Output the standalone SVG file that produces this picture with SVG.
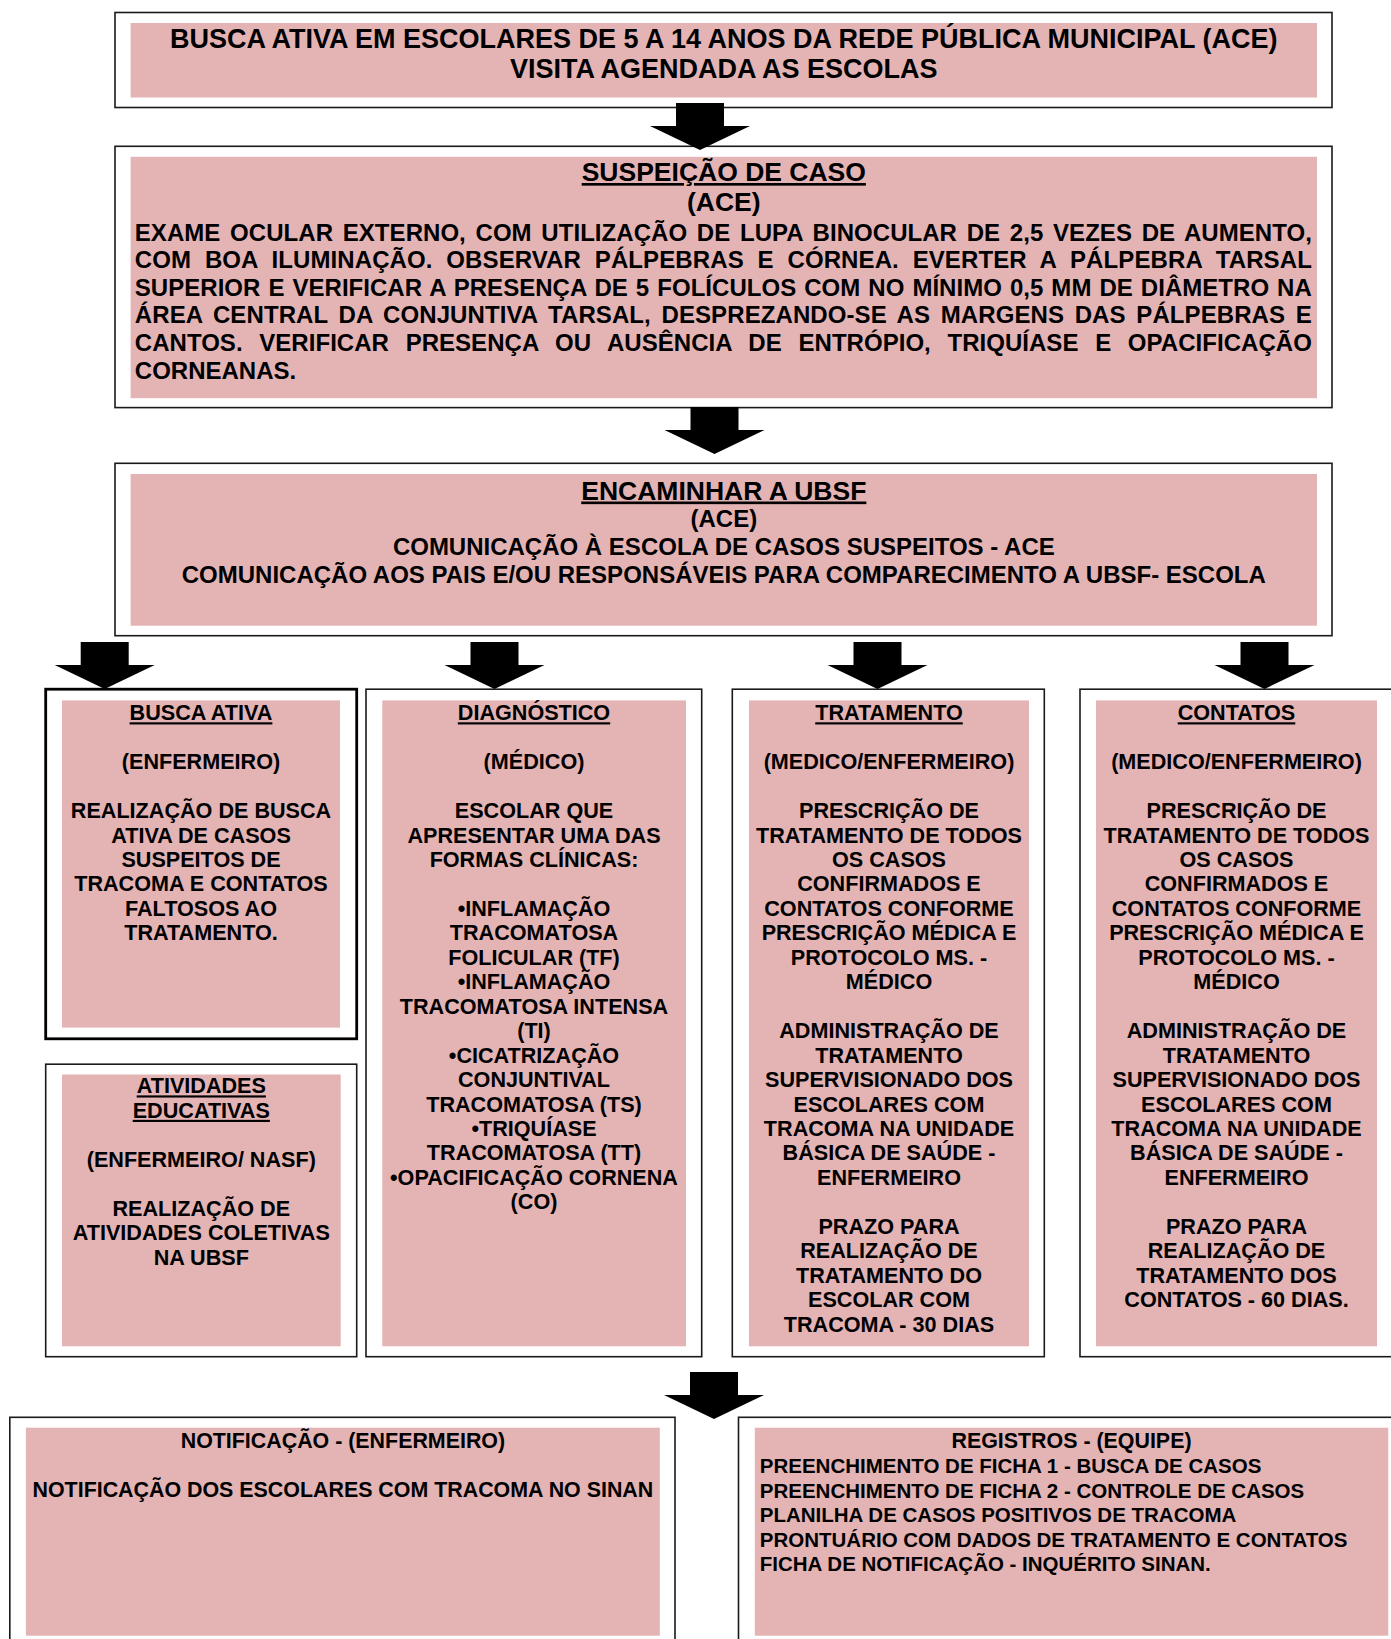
<svg xmlns="http://www.w3.org/2000/svg" xmlns:xlink="http://www.w3.org/1999/xlink" width="1391" height="1639" viewBox="0 0 1391 1639">
<style>
.frame{fill:#fff;stroke:#1a1a1a;stroke-width:1.6}
.frameb{fill:#fff;stroke:#000;stroke-width:2.8}
.pink{fill:#E4B4B5;stroke:none}
text{font-family:"Liberation Sans",Arial,sans-serif;font-weight:bold;fill:#000}
.t27{font-size:27px}
.t26{font-size:26.5px}
.t24{font-size:24px}
.t21{font-size:21.6px}
.tb{font-size:21.4px}
.tr{font-size:20.5px}
.mid{text-anchor:middle}
.u{text-decoration:underline}
</style>
<defs>
<path id="arrow" d="M-24,-47 H24 V-24 H50 L0,0 L-50,-24 H-24 Z" fill="#000"/>
</defs>
<rect x="0" y="0" width="1391" height="1639" fill="#fff"/>

<g id="node-busca-escolares">
<rect class="frame" x="115" y="12.5" width="1217" height="95"/>
<rect class="pink" x="130.6" y="23" width="1186.4" height="74.5"/>
<text class="t27 mid" x="723.8" y="48">BUSCA ATIVA EM ESCOLARES DE 5 A 14 ANOS DA REDE PÚBLICA MUNICIPAL (ACE)</text>
<text class="t27 mid" x="723.8" y="78">VISITA AGENDADA AS ESCOLAS</text>
</g>

<g id="node-suspeicao">
<rect class="frame" x="115" y="146.3" width="1217" height="261.3"/>
<rect class="pink" x="130.6" y="156.8" width="1186.4" height="241.4"/>
<text class="t26 mid u" x="723.8" y="181">SUSPEIÇÃO DE CASO</text>
<text class="t26 mid" x="723.8" y="211">(ACE)</text>
<text class="t24" x="134.8" y="240.6" word-spacing="2.97" textLength="1177" lengthAdjust="spacing">EXAME OCULAR EXTERNO, COM UTILIZAÇÃO DE LUPA BINOCULAR DE 2,5 VEZES DE AUMENTO,</text>
<text class="t24" x="134.8" y="268.2" word-spacing="7.03" textLength="1177" lengthAdjust="spacing">COM BOA ILUMINAÇÃO. OBSERVAR PÁLPEBRAS E CÓRNEA. EVERTER A PÁLPEBRA TARSAL</text>
<text class="t24" x="134.8" y="295.8" word-spacing="1.31" textLength="1177" lengthAdjust="spacing">SUPERIOR E VERIFICAR A PRESENÇA DE 5 FOLÍCULOS COM NO MÍNIMO 0,5 MM DE DIÂMETRO NA</text>
<text class="t24" x="134.8" y="323.4" word-spacing="3.9" textLength="1177" lengthAdjust="spacing">ÁREA CENTRAL DA CONJUNTIVA TARSAL, DESPREZANDO-SE AS MARGENS DAS PÁLPEBRAS E</text>
<text class="t24" x="134.8" y="351" word-spacing="10" textLength="1177" lengthAdjust="spacing">CANTOS. VERIFICAR PRESENÇA OU AUSÊNCIA DE ENTRÓPIO, TRIQUÍASE E OPACIFICAÇÃO</text>
<text class="t24" x="134.8" y="378.6">CORNEANAS.</text>
</g>

<g id="node-encaminhar">
<rect class="frame" x="115" y="463.3" width="1217" height="172.4"/>
<rect class="pink" x="130.6" y="474" width="1186.4" height="151.7"/>
<text class="t26 mid u" x="723.8" y="499.5">ENCAMINHAR A UBSF</text>
<text class="t24 mid" x="723.8" y="527">(ACE)</text>
<text class="t24 mid" x="723.8" y="554.5">COMUNICAÇÃO À ESCOLA DE CASOS SUSPEITOS - ACE</text>
<text class="t24 mid" x="723.8" y="583.4" font-size="24.2">COMUNICAÇÃO AOS PAIS E/OU RESPONSÁVEIS PARA COMPARECIMENTO A UBSF- ESCOLA</text>
</g>

<g id="node-busca-ativa">
<rect class="frameb" x="45.7" y="689.2" width="311" height="349.6"/>
<rect class="pink" x="62" y="700.4" width="278" height="327.2"/>
<text class="t21 mid u" x="201" y="720.3">BUSCA ATIVA</text>
<text class="t21 mid" x="201" y="769.2">(ENFERMEIRO)</text>
<text class="t21 mid" x="201" y="818.1">REALIZAÇÃO DE BUSCA</text>
<text class="t21 mid" x="201" y="842.55">ATIVA DE CASOS</text>
<text class="t21 mid" x="201" y="867">SUSPEITOS DE</text>
<text class="t21 mid" x="201" y="891.45">TRACOMA E CONTATOS</text>
<text class="t21 mid" x="201" y="915.9">FALTOSOS AO</text>
<text class="t21 mid" x="201" y="940.35">TRATAMENTO.</text>
</g>

<g id="node-atividades">
<rect class="frame" x="45.7" y="1064.2" width="311" height="292.5"/>
<rect class="pink" x="62" y="1074.5" width="278.7" height="271.8"/>
<text class="t21 mid u" x="201.3" y="1093.4">ATIVIDADES</text>
<text class="t21 mid u" x="201.3" y="1117.85">EDUCATIVAS</text>
<text class="t21 mid" x="201.3" y="1166.75">(ENFERMEIRO/ NASF)</text>
<text class="t21 mid" x="201.3" y="1215.65">REALIZAÇÃO DE</text>
<text class="t21 mid" x="201.3" y="1240.1">ATIVIDADES COLETIVAS</text>
<text class="t21 mid" x="201.3" y="1264.55">NA UBSF</text>
</g>

<g id="node-diagnostico">
<rect class="frame" x="366" y="689.2" width="335.7" height="667.5"/>
<rect class="pink" x="382.3" y="700.4" width="303.7" height="645.9"/>
<text class="t21 mid u" x="534" y="720.3">DIAGNÓSTICO</text>
<text class="t21 mid" x="534" y="769.2">(MÉDICO)</text>
<text class="t21 mid" x="534" y="818.1">ESCOLAR QUE</text>
<text class="t21 mid" x="534" y="842.55">APRESENTAR UMA DAS</text>
<text class="t21 mid" x="534" y="867">FORMAS CLÍNICAS:</text>
<text class="t21 mid" x="534" y="915.9">•INFLAMAÇÃO</text>
<text class="t21 mid" x="534" y="940.35">TRACOMATOSA</text>
<text class="t21 mid" x="534" y="964.8">FOLICULAR (TF)</text>
<text class="t21 mid" x="534" y="989.25">•INFLAMAÇÃO</text>
<text class="t21 mid" x="534" y="1013.7">TRACOMATOSA INTENSA</text>
<text class="t21 mid" x="534" y="1038.15">(TI)</text>
<text class="t21 mid" x="534" y="1062.6">•CICATRIZAÇÃO</text>
<text class="t21 mid" x="534" y="1087.05">CONJUNTIVAL</text>
<text class="t21 mid" x="534" y="1111.5">TRACOMATOSA (TS)</text>
<text class="t21 mid" x="534" y="1135.95">•TRIQUÍASE</text>
<text class="t21 mid" x="534" y="1160.4">TRACOMATOSA (TT)</text>
<text class="t21 mid" x="534" y="1184.85">•OPACIFICAÇÃO CORNENA</text>
<text class="t21 mid" x="534" y="1209.3">(CO)</text>
</g>

<g id="node-tratamento">
<rect class="frame" x="732.3" y="689.2" width="312" height="667.5"/>
<rect class="pink" x="749" y="700.4" width="280" height="645.9"/>
<text class="t21 mid u" x="889" y="720.3">TRATAMENTO</text>
<text class="t21 mid" x="889" y="769.2">(MEDICO/ENFERMEIRO)</text>
<text class="t21 mid" x="889" y="818.1">PRESCRIÇÃO DE</text>
<text class="t21 mid" x="889" y="842.55">TRATAMENTO DE TODOS</text>
<text class="t21 mid" x="889" y="867">OS CASOS</text>
<text class="t21 mid" x="889" y="891.45">CONFIRMADOS E</text>
<text class="t21 mid" x="889" y="915.9">CONTATOS CONFORME</text>
<text class="t21 mid" x="889" y="940.35">PRESCRIÇÃO MÉDICA E</text>
<text class="t21 mid" x="889" y="964.8">PROTOCOLO MS. -</text>
<text class="t21 mid" x="889" y="989.25">MÉDICO</text>
<text class="t21 mid" x="889" y="1038.15">ADMINISTRAÇÃO DE</text>
<text class="t21 mid" x="889" y="1062.6">TRATAMENTO</text>
<text class="t21 mid" x="889" y="1087.05">SUPERVISIONADO DOS</text>
<text class="t21 mid" x="889" y="1111.5">ESCOLARES COM</text>
<text class="t21 mid" x="889" y="1135.95">TRACOMA NA UNIDADE</text>
<text class="t21 mid" x="889" y="1160.4">BÁSICA DE SAÚDE -</text>
<text class="t21 mid" x="889" y="1184.85">ENFERMEIRO</text>
<text class="t21 mid" x="889" y="1233.75">PRAZO PARA</text>
<text class="t21 mid" x="889" y="1258.2">REALIZAÇÃO DE</text>
<text class="t21 mid" x="889" y="1282.65">TRATAMENTO DO</text>
<text class="t21 mid" x="889" y="1307.1">ESCOLAR COM</text>
<text class="t21 mid" x="889" y="1331.55">TRACOMA - 30 DIAS</text>
</g>

<g id="node-contatos">
<rect class="frame" x="1080" y="689.2" width="312.5" height="667.5"/>
<rect class="pink" x="1096" y="700.4" width="281" height="645.9"/>
<text class="t21 mid u" x="1236.5" y="720.3">CONTATOS</text>
<text class="t21 mid" x="1236.5" y="769.2">(MEDICO/ENFERMEIRO)</text>
<text class="t21 mid" x="1236.5" y="818.1">PRESCRIÇÃO DE</text>
<text class="t21 mid" x="1236.5" y="842.55">TRATAMENTO DE TODOS</text>
<text class="t21 mid" x="1236.5" y="867">OS CASOS</text>
<text class="t21 mid" x="1236.5" y="891.45">CONFIRMADOS E</text>
<text class="t21 mid" x="1236.5" y="915.9">CONTATOS CONFORME</text>
<text class="t21 mid" x="1236.5" y="940.35">PRESCRIÇÃO MÉDICA E</text>
<text class="t21 mid" x="1236.5" y="964.8">PROTOCOLO MS. -</text>
<text class="t21 mid" x="1236.5" y="989.25">MÉDICO</text>
<text class="t21 mid" x="1236.5" y="1038.15">ADMINISTRAÇÃO DE</text>
<text class="t21 mid" x="1236.5" y="1062.6">TRATAMENTO</text>
<text class="t21 mid" x="1236.5" y="1087.05">SUPERVISIONADO DOS</text>
<text class="t21 mid" x="1236.5" y="1111.5">ESCOLARES COM</text>
<text class="t21 mid" x="1236.5" y="1135.95">TRACOMA NA UNIDADE</text>
<text class="t21 mid" x="1236.5" y="1160.4">BÁSICA DE SAÚDE -</text>
<text class="t21 mid" x="1236.5" y="1184.85">ENFERMEIRO</text>
<text class="t21 mid" x="1236.5" y="1233.75">PRAZO PARA</text>
<text class="t21 mid" x="1236.5" y="1258.2">REALIZAÇÃO DE</text>
<text class="t21 mid" x="1236.5" y="1282.65">TRATAMENTO DOS</text>
<text class="t21 mid" x="1236.5" y="1307.1">CONTATOS - 60 DIAS.</text>
</g>

<g id="node-notificacao">
<rect class="frame" x="9.8" y="1417.3" width="665.2" height="240"/>
<rect class="pink" x="25.9" y="1427.7" width="633.9" height="208"/>
<text class="tb mid" x="342.9" y="1447.7">NOTIFICAÇÃO - (ENFERMEIRO)</text>
<text class="tb mid" x="342.9" y="1497">NOTIFICAÇÃO DOS ESCOLARES COM TRACOMA NO SINAN</text>
</g>

<g id="node-registros">
<rect class="frame" x="738.5" y="1417.3" width="665" height="240"/>
<rect class="pink" x="754.8" y="1427.7" width="633.5" height="208"/>
<text class="tb mid" x="1071.5" y="1447.7">REGISTROS - (EQUIPE)</text>
<text class="tr" x="759.8" y="1473">PREENCHIMENTO DE FICHA 1 - BUSCA DE CASOS</text>
<text class="tr" x="759.8" y="1497.5">PREENCHIMENTO DE FICHA 2 - CONTROLE DE CASOS</text>
<text class="tr" x="759.8" y="1522">PLANILHA DE CASOS POSITIVOS DE TRACOMA</text>
<text class="tr" x="759.8" y="1546.5">PRONTUÁRIO COM DADOS DE TRATAMENTO E CONTATOS</text>
<text class="tr" x="759.8" y="1571">FICHA DE NOTIFICAÇÃO - INQUÉRITO SINAN.</text>
</g>

<g id="connectors">
<use href="#arrow" xlink:href="#arrow" x="700" y="150"/>
<use href="#arrow" xlink:href="#arrow" x="714.5" y="454"/>
<use href="#arrow" xlink:href="#arrow" x="104.7" y="689"/>
<use href="#arrow" xlink:href="#arrow" x="494.5" y="689"/>
<use href="#arrow" xlink:href="#arrow" x="877.5" y="689"/>
<use href="#arrow" xlink:href="#arrow" x="1264.5" y="689"/>
<use href="#arrow" xlink:href="#arrow" x="714" y="1419"/>
</g>
</svg>
